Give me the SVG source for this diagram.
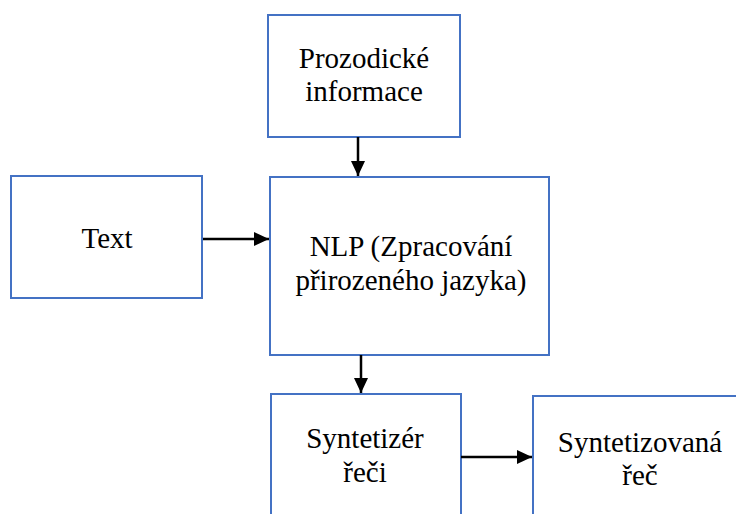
<svg xmlns="http://www.w3.org/2000/svg" width="736" height="514" viewBox="0 0 736 514">
  <style>
    .box { fill: #ffffff; stroke: #4472C4; stroke-width: 2; }
    .lbl { font-family: "Liberation Serif", "Times New Roman", serif; font-size: 29px; fill: #000000; text-anchor: middle; }
    .wire { stroke: #000000; stroke-width: 2.5; fill: none; marker-end: url(#arrow); }
  </style>
  <defs>
    <marker id="arrow" markerWidth="15" markerHeight="14" refX="15" refY="7" orient="auto" markerUnits="userSpaceOnUse">
      <path d="M0,0 L15,7 L0,14 Z" fill="#000000"/>
    </marker>
  </defs>
  <rect width="736" height="514" fill="#ffffff"/>

  <g id="node-prozodie">
    <rect class="box" x="268" y="15" width="192" height="122"/>
    <text class="lbl" x="364" y="68">Prozodické</text>
    <text class="lbl" x="364" y="101">informace</text>
  </g>

  <g id="node-text">
    <rect class="box" x="11" y="176" width="191" height="122"/>
    <text class="lbl" x="107" y="248">Text</text>
  </g>

  <g id="node-nlp">
    <rect class="box" x="270" y="177" width="279" height="178"/>
    <text class="lbl" x="411" y="256">NLP (Zpracování</text>
    <text class="lbl" x="411" y="290">přirozeného jazyka)</text>
  </g>

  <g id="node-syntetizer">
    <rect class="box" x="271" y="394" width="190" height="140"/>
    <text class="lbl" x="365" y="448">Syntetizér</text>
    <text class="lbl" x="365" y="482">řeči</text>
  </g>

  <g id="node-vystup">
    <rect class="box" x="533" y="396" width="220" height="140"/>
    <text class="lbl" x="640" y="452">Syntetizovaná</text>
    <text class="lbl" x="640" y="485">řeč</text>
  </g>

  <g id="connectors">
    <line class="wire" x1="358" y1="137" x2="358" y2="176"/>
    <line class="wire" x1="203" y1="239" x2="269" y2="239"/>
    <line class="wire" x1="361" y1="355" x2="361" y2="393"/>
    <line class="wire" x1="461" y1="457" x2="532" y2="457"/>
  </g>
</svg>
